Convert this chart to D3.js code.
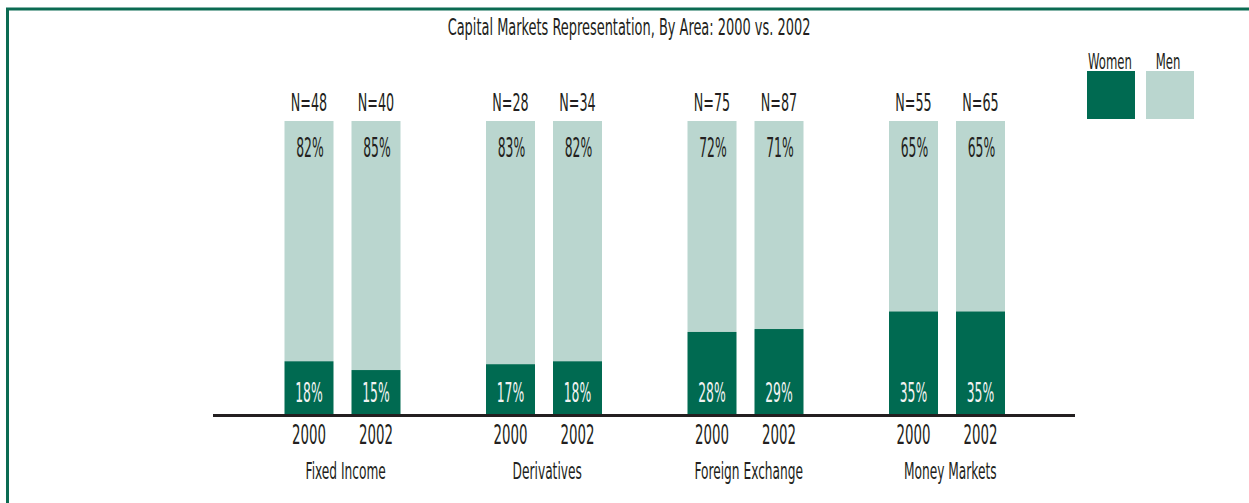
<!DOCTYPE html>
<html>
<head>
<meta charset="utf-8">
<script src="https://cdn.jsdelivr.net/npm/d3@7"></script>
<style>
  html, body { margin: 0; padding: 0; background: #fff; }
  svg text { font-family: "Liberation Sans Narrow", "DejaVu Sans Condensed", "DejaVu Sans", sans-serif; fill: #231f20; }
</style>
</head>
<body>
<div id="chart"></div>
<script>
const areas = ["Fixed Income", "Derivatives", "Foreign Exchange", "Money Markets"];
const years = ["2000", "2002"];
const womenPct = [[18, 15], [17, 18], [28, 29], [35, 35]];
const menPct = [[82, 85], [83, 82], [72, 71], [65, 65]];
const counts = [[48, 40], [28, 34], [75, 87], [55, 65]];
const legendLabels = ["Women", "Men"];

const width = 1249, height = 503;
const colWomen = "#006a51", colMen = "#bad6cf";

const svg = d3.select("#chart").append("svg")
  .attr("width", width)
  .attr("height", height);

// green frame (top + left, runs off the page on the other sides)
svg.append("path")
  .attr("d", `M7.5,${height} V9 H${width}`)
  .attr("fill", "none")
  .attr("stroke", "#0b6b52")
  .attr("stroke-width", 3);

const x0 = d3.scaleBand().domain(areas).range([242, 1048]);
const x1 = d3.scaleBand().domain(years).range([42.5, 158.5]).paddingInner(18 / 67);
const y = d3.scaleLinear().domain([0, 100]).range([414, 121]);

// condensed text helper
function label(sel, x, yy, txt, size, sx, fill) {
  return sel.append("text")
    .attr("transform", `translate(${x},${yy}) scale(${sx},1)`)
    .attr("text-anchor", "middle")
    .style("font-size", size + "px")
    .style("fill", fill || "#231f20")
    .text(txt);
}

label(svg, 629, 35, "Capital Markets Representation, By Area: 2000 vs. 2002", 22.5, 0.64);

const rows = [];
areas.forEach((a, i) => years.forEach((yr, j) => rows.push({
  area: a, year: yr, women: womenPct[i][j], men: menPct[i][j], n: counts[i][j]
})));

const g = svg.append("g");

const bars = g.selectAll("g.bar").data(rows).join("g")
  .attr("class", "bar")
  .attr("transform", d => `translate(${x0(d.area) + x1(d.year)},0)`);

bars.append("rect")
  .attr("y", y(100))
  .attr("width", x1.bandwidth())
  .attr("height", d => y(d.women) - y(100))
  .attr("fill", colMen);

bars.append("rect")
  .attr("y", d => y(d.women))
  .attr("width", x1.bandwidth())
  .attr("height", d => y(0) - y(d.women))
  .attr("fill", colWomen);

const bw = x1.bandwidth() / 2;
bars.each(function (d) {
  const b = d3.select(this);
  label(b, bw, 111, "N=" + d.n, 24, 0.59);
  label(b, bw + 1, 157, d.men + "%", 27, 0.51);
  label(b, bw, 402, d.women + "%", 27, 0.51, "#f2f2f2");
  label(b, bw, 444, d.year, 27, 0.55);
});

// baseline
svg.append("line")
  .attr("x1", 213).attr("x2", 1075)
  .attr("y1", 415.5).attr("y2", 415.5)
  .attr("stroke", "#231f20")
  .attr("stroke-width", 3);

// area names
areas.forEach(a => label(svg, x0(a) + x0.bandwidth() / 2 + 3, 479, a, 23, 0.59));

// legend
const legend = svg.append("g").attr("transform", "translate(1087,71)");
const lg = legend.selectAll("g").data(legendLabels).join("g")
  .attr("transform", (d, i) => `translate(${i * 59},0)`);
lg.append("rect")
  .attr("width", 48).attr("height", 48)
  .attr("fill", (d, i) => i === 0 ? colWomen : colMen);
lg.each(function (d, i) {
  label(d3.select(this), i === 0 ? 23 : 22, -2, d, 22, 0.59);
});
</script>
</body>
</html>
